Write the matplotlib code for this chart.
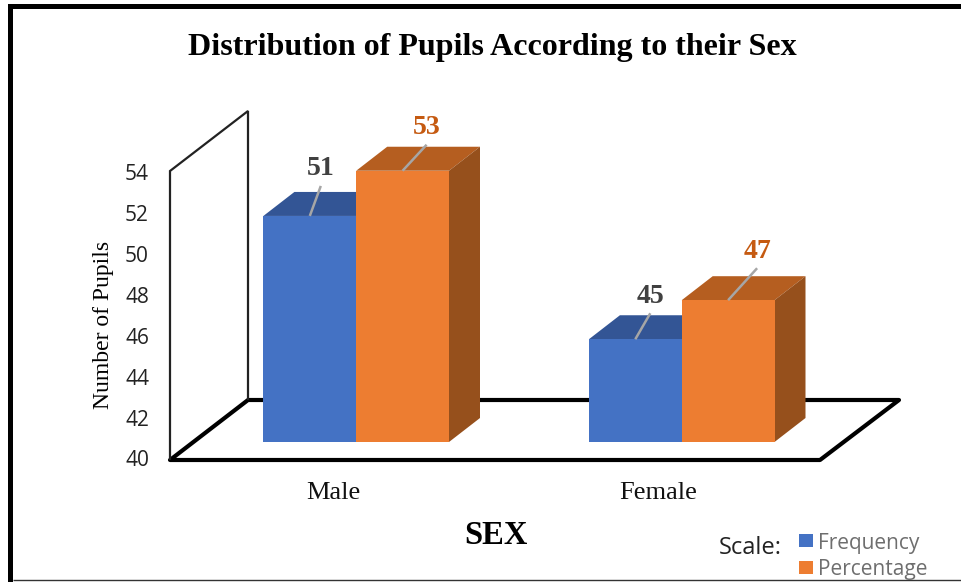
import matplotlib
matplotlib.use("Agg")
import matplotlib.pyplot as plt
from matplotlib.patches import Polygon, Rectangle

categories = ["Male", "Female"]
frequency = [51, 45]
percentage = [53, 47]
# bar heights (slightly different from the printed labels)
percentage_heights = [53.2, 46.9]
y_ticks = [40, 42, 44, 46, 48, 50, 52, 54]

W, H = 961, 582
SERIF = "Liberation Serif"
SANS = "Open Sans"

BLUE = ("#4472C4", "#335595", "#2E4F8A")
ORANGE = ("#ED7D31", "#B55E20", "#96501C")

fig = plt.figure(figsize=(W / 100, H / 100), dpi=100, facecolor="white")

# pixel-space layer for the frame and text placement
px = fig.add_axes([0, 0, 1, 1], zorder=1)
px.set_xlim(0, W)
px.set_ylim(H, 0)
px.axis("off")

# data layer: category units on x, values on y
X0, XU = 356.2, 325.5     # pixel of category 0, pixels per category
Y0, YU = 442.0, 20.55     # pixel of value 40, pixels per value unit
ax = fig.add_axes([0, 0, 1, 1], zorder=2)
ax.patch.set_alpha(0)
ax.set_xlim(-X0 / XU, (W - X0) / XU)
ax.set_ylim(40 - (H - Y0) / YU, 40 + Y0 / YU)
ax.axis("off")

# outer frame: top and left bands, thin bottom rule
px.add_patch(Rectangle((8, 4), 5, H, fc="black", ec="none"))
px.add_patch(Rectangle((8, 4), W, 5, fc="black", ec="none"))
px.plot([13, W], [580, 580], color="#333333", lw=1.0, solid_capstyle="butt")

# walls and floor
px.plot([170, 170, 248, 248], [460, 171, 111, 400], color="#222222", lw=1.6,
        solid_joinstyle="miter", solid_capstyle="butt")
px.add_patch(Polygon([(170, 460), (820, 460), (899, 400), (248, 400)], closed=True,
                     fc="white", ec="black", lw=3.0, joinstyle="round"))

# bars
BAR_W = 92.8 / XU
DX, DY = 31.0 / XU, 24.0 / YU


def bar(x_left, value, colors):
    x_right = x_left + BAR_W
    ax.add_patch(Polygon([(x_left, value), (x_right, value),
                          (x_right + DX, value + DY), (x_left + DX, value + DY)],
                         closed=True, fc=colors[1], ec="none"))
    ax.add_patch(Polygon([(x_right, 40), (x_right, value), (x_right + DX, value + DY),
                          (x_right + DX, 40 + DY)], closed=True, fc=colors[2], ec="none"))
    ax.add_patch(Rectangle((x_left, 40), BAR_W, value - 40, fc=colors[0], ec="none"))


for i in range(len(categories)):
    bar(i - BAR_W, frequency[i], BLUE)
    bar(i, percentage_heights[i], ORANGE)

# data labels with leader lines: offsets (pixels) from the front top edge centre
leader_freq = [(11, 30), (15, 26)]
leader_perc = [(24, 26), (29, 32)]
LABEL_GAP = 17
for i in range(len(categories)):
    for off, v, h, (ldx, ldy), col in (
            (-BAR_W / 2, frequency[i], frequency[i], leader_freq[i], "#404040"),
            (BAR_W / 2, percentage[i], percentage_heights[i], leader_perc[i], "#C55A11")):
        x1, y1 = i + off + ldx / XU, h + ldy / YU
        ax.plot([i + off, x1], [h, y1], color="#A6A6A6", lw=1.8, solid_capstyle="butt")
        ax.text(x1, y1 + LABEL_GAP / YU, str(v), ha="center", va="center", fontsize=20,
                fontweight="bold", family=SERIF, color=col)

# y tick labels
for t in y_ticks:
    y = 461 - (t - 40) * 20.45
    px.text(149, y, str(t), ha="right", va="center", fontsize=15, family=SANS,
            color="#222222")

# x tick labels
x_label_px = [333, 658]
for c, xp in zip(categories, x_label_px):
    px.text(xp, 493, c, ha="center", va="center", fontsize=19, family=SERIF, color="#111111")

px.text(492, 48, "Distribution of Pupils According to their Sex", ha="center", va="center",
        fontsize=23, fontweight="bold", family=SERIF, color="black")
px.text(103, 325, "Number of Pupils", rotation=90, ha="center", va="center", fontsize=17,
        family=SERIF, color="black")
px.text(496, 535, "SEX", ha="center", va="center", fontsize=23.5, fontweight="bold",
        family=SERIF, color="black")

# legend
px.text(719, 548, "Scale:", ha="left", va="center", fontsize=17, family=SANS, color="#222222")
for y, col, lab in ((541, BLUE[0], "Frequency"), (568, ORANGE[0], "Percentage")):
    px.add_patch(Rectangle((799, y - 7), 14, 13, fc=col, ec="none"))
    px.text(818, y + 2, lab, ha="left", va="center", fontsize=15, family=SANS, color="#6E6E6E")

fig.savefig("out.png", dpi=100, facecolor="white")
